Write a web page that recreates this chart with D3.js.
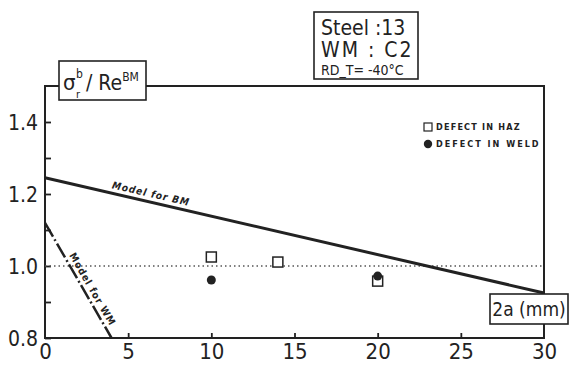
<!DOCTYPE html>
<html><head><meta charset="utf-8">
<script src="https://cdn.jsdelivr.net/npm/d3@7"></script>
<style>
html,body{margin:0;padding:0;background:#fff;}
svg{display:block;}
text{font-family:"DejaVu Sans Condensed","Liberation Sans Narrow",sans-serif;fill:#222;}
</style>
</head><body>
<svg id="c" width="575" height="365"></svg>
<script>
// ---- data ----
const xTicks = [0, 5, 10, 15, 20, 25, 30];
const yTicks = [0.8, 0.9, 1.0, 1.1, 1.2, 1.3, 1.4];
const yLabeled = [0.8, 1.0, 1.2, 1.4];
const hazX = [10, 14, 20];
const hazY = [1.025, 1.011, 0.958];
const weldX = [10, 20];
const weldY = [0.961, 0.972];
const bmModelX = [0, 30];
const bmModelY = [1.245, 0.925];
const wmModelX = [0, 4];
const wmModelY = [1.12, 0.8];
const refLineX = [0, 30];
const refLineY = [1.0, 1.0];
const titleLines = ["Steel :13", "WM : C2", "RD_T= -40°C"];
const legendLabels = ["DEFECT IN HAZ", "DEFECT IN WELD"];

const svg = d3.select("#c");
const x = d3.scaleLinear().domain([0, 30]).range([45, 544]);
const y = d3.scaleLinear().domain([0.8, 1.5]).range([338, 86]);
const ink = "#222";

// frame
svg.append("rect").attr("x", x(0)).attr("y", y(1.5))
  .attr("width", x(30) - x(0)).attr("height", y(0.8) - y(1.5))
  .attr("fill", "none").attr("stroke", ink).attr("stroke-width", 2);

// axes
const fmt = d3.format(".1f");
const yAxis = d3.axisLeft(y).tickValues(yTicks).tickSize(-6).tickPadding(7)
  .tickFormat(d => yLabeled.some(v => Math.abs(v - d) < 1e-9) ? fmt(d) : "");
const gy = svg.append("g").attr("transform", `translate(${x(0)},0)`).call(yAxis);
gy.select(".domain").remove();
gy.selectAll(".tick line").attr("stroke", ink).attr("stroke-width", 1.8);
gy.selectAll(".tick text").attr("font-size", 21).attr("fill", ink)
  .style("font-family", '"DejaVu Sans Condensed",sans-serif').attr("dy", "0.35em");

const xAxis = d3.axisBottom(x).tickValues(xTicks).tickSize(-5).tickPadding(6)
  .tickFormat(d3.format("d"));
const gx = svg.append("g").attr("transform", `translate(0,${y(0.8)})`).call(xAxis);
gx.select(".domain").remove();
gx.selectAll(".tick line").attr("stroke", ink).attr("stroke-width", 1.8)
  .attr("display", d => (d === 0 || d === 30) ? "none" : null);
gx.selectAll(".tick text").attr("font-size", 22).attr("fill", ink)
  .style("font-family", '"DejaVu Sans Condensed",sans-serif').attr("dy", "0.7em");

// dotted reference line
const line = d3.line().x(d => x(d[0])).y(d => y(d[1]));
svg.append("path").datum(d3.zip(refLineX, refLineY)).attr("d", line)
  .attr("fill", "none").attr("stroke", "#555").attr("stroke-width", 1.3)
  .attr("stroke-dasharray", "1.5,3");

// BM model line
svg.append("path").datum(d3.zip(bmModelX, bmModelY)).attr("d", line)
  .attr("fill", "none").attr("stroke", ink).attr("stroke-width", 3);
// WM model line
svg.append("path").datum(d3.zip(wmModelX, wmModelY)).attr("d", line)
  .attr("fill", "none").attr("stroke", ink).attr("stroke-width", 2.5)
  .attr("stroke-dasharray", "16,3,2,3");

// line labels
const bmAng = Math.atan2(y(bmModelY[1]) - y(bmModelY[0]), x(30) - x(0)) * 180 / Math.PI;
const bx = 4.0, byv = bmModelY[0] + (bmModelY[1] - bmModelY[0]) * bx / 30;
svg.append("text").attr("transform", `translate(${x(bx)},${y(byv) - 5}) rotate(${bmAng})`)
  .attr("font-size", 10).attr("font-weight", "bold").attr("font-style", "italic")
  .attr("letter-spacing", 1).text("Model for BM");
const wmAng = Math.atan2(y(wmModelY[1]) - y(wmModelY[0]), x(4) - x(0)) * 180 / Math.PI;
const wx = 1.2, wyv = wmModelY[0] + (wmModelY[1] - wmModelY[0]) * wx / 4;
svg.append("text").attr("transform", `translate(${x(wx) + 4},${y(wyv) - 2}) rotate(${wmAng})`)
  .attr("font-size", 10).attr("font-weight", "bold")
  .attr("letter-spacing", 1).text("Model for WM");

// data points
svg.selectAll(".haz").data(d3.zip(hazX, hazY)).join("rect")
  .attr("x", d => x(d[0]) - 5).attr("y", d => y(d[1]) - 5)
  .attr("width", 10).attr("height", 10)
  .attr("fill", "#fff").attr("stroke", ink).attr("stroke-width", 1.5);
svg.selectAll(".weld").data(d3.zip(weldX, weldY)).join("circle")
  .attr("cx", d => x(d[0])).attr("cy", d => y(d[1])).attr("r", 4.5)
  .attr("fill", ink);

// legend
svg.append("rect").attr("x", 424).attr("y", 123).attr("width", 8).attr("height", 8)
  .attr("fill", "#fff").attr("stroke", ink).attr("stroke-width", 1.2);
svg.append("circle").attr("cx", 428).attr("cy", 144).attr("r", 4.2).attr("fill", ink);
legendLabels.forEach((t, i) => {
  svg.append("text").attr("x", 436).attr("y", 127 + i * 17).attr("dy", "0.35em")
    .attr("font-size", 9).attr("font-weight", "bold").attr("letter-spacing", i ? 2 : 1.2)
    .text(t);
});

// y label box
svg.append("rect").attr("x", 59).attr("y", 61).attr("width", 87).attr("height", 39)
  .attr("fill", "#fff").attr("stroke", ink).attr("stroke-width", 1.6);
svg.append("text").attr("x", 63).attr("y", 90).attr("font-size", 22).text("σ");
svg.append("text").attr("x", 76).attr("y", 98).attr("font-size", 11).text("r");
svg.append("text").attr("x", 76).attr("y", 78).attr("font-size", 12).text("b");
const yl = svg.append("text").attr("x", 86).attr("y", 90).attr("font-size", 21);
yl.append("tspan").text("/ Re");
yl.append("tspan").attr("font-size", 12).attr("dy", -9).text("BM");

// x label box
svg.append("rect").attr("x", 490).attr("y", 294).attr("width", 78).attr("height", 30)
  .attr("fill", "#fff").attr("stroke", ink).attr("stroke-width", 1.6);
svg.append("text").attr("x", 529).attr("y", 309).attr("dy", "0.36em")
  .attr("text-anchor", "middle").attr("font-size", 19).text("2a (mm)");

// title box
svg.append("rect").attr("x", 314).attr("y", 12).attr("width", 104).attr("height", 67)
  .attr("fill", "#fff").attr("stroke", ink).attr("stroke-width", 1.6);
svg.append("text").attr("x", 321).attr("y", 35).attr("font-size", 21).text(titleLines[0]);
svg.append("text").attr("x", 321).attr("y", 57).attr("font-size", 21).attr("letter-spacing", 2).text(titleLines[1]);
svg.append("text").attr("x", 321).attr("y", 75).attr("font-size", 14).text(titleLines[2]);
</script>
</body></html>
